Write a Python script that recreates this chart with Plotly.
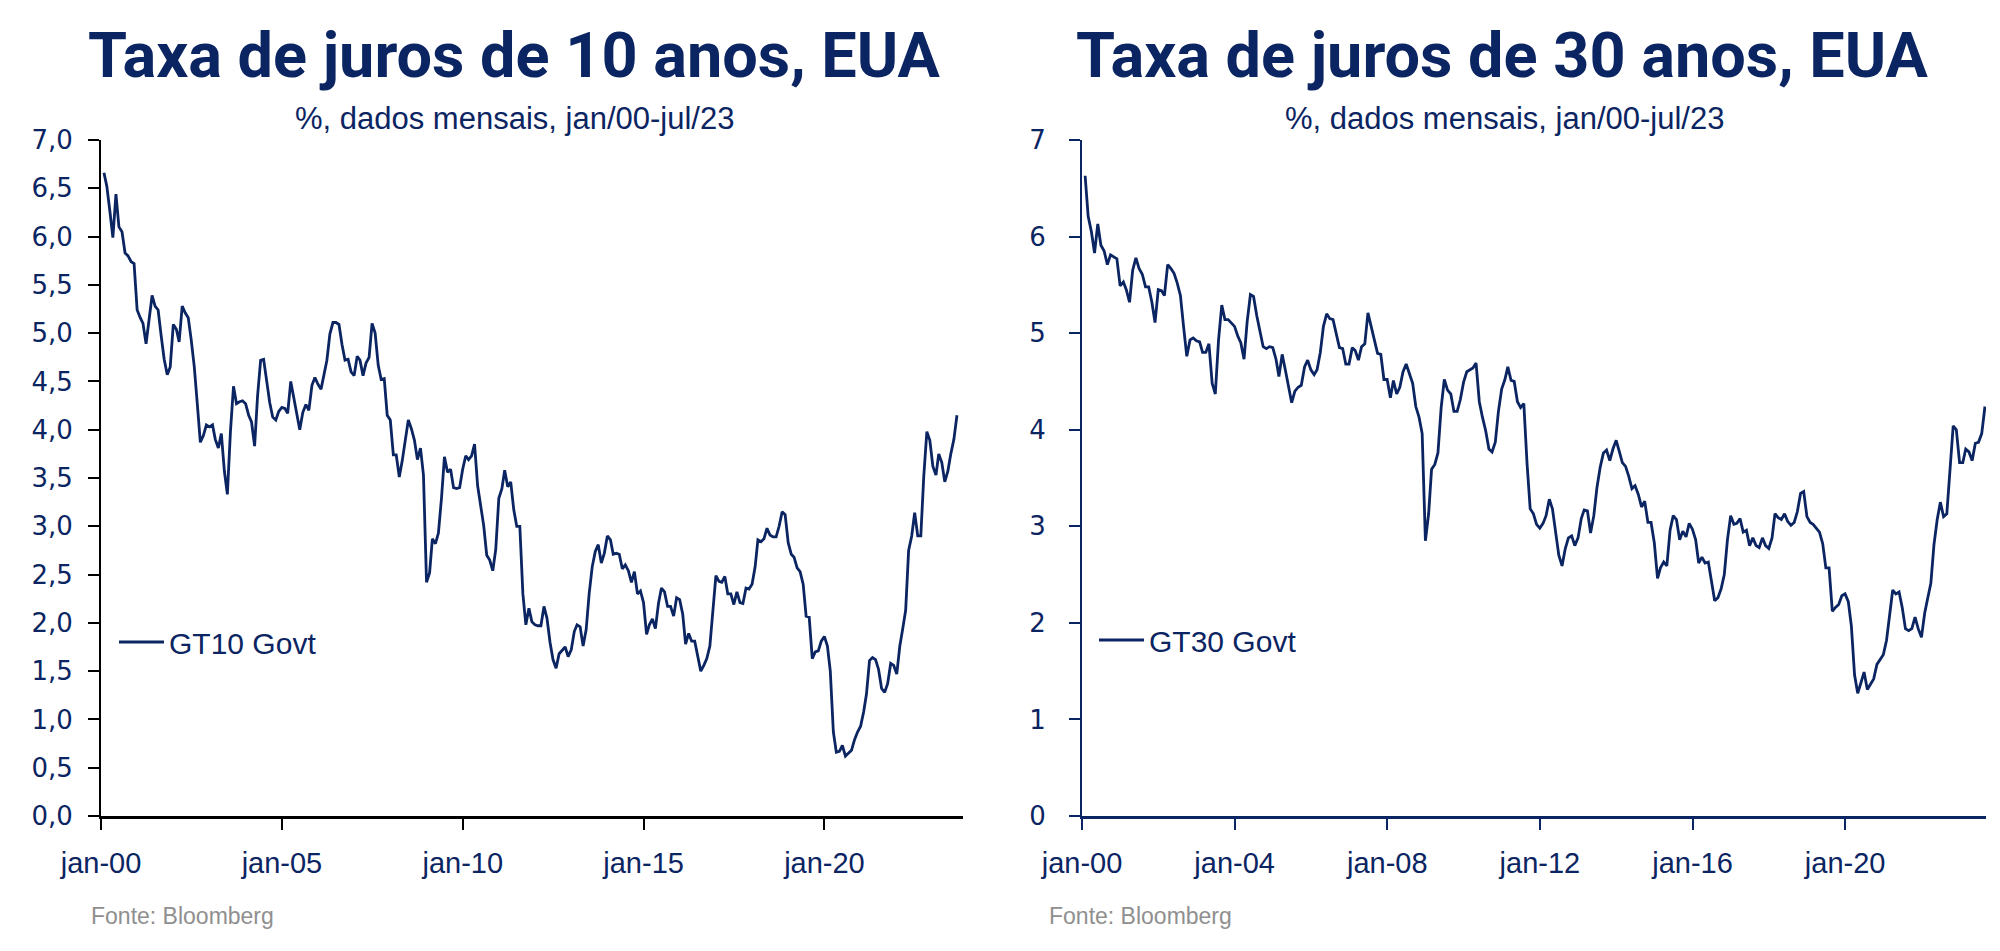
import pandas as pd
import plotly.graph_objects as go

# ---------------- data (monthly averages, %) ----------------
dates = pd.date_range("2000-01-31", periods=284, freq="ME")

yield_10y = [
    6.66, 6.52, 6.26, 5.99, 6.44, 6.10, 6.05, 5.83, 5.80, 5.74, 5.72, 5.24,
    5.16, 5.10, 4.89, 5.14, 5.39, 5.28, 5.24, 4.97, 4.73, 4.57, 4.65, 5.09,
    5.04, 4.91, 5.28, 5.21, 5.16, 4.93, 4.65, 4.26, 3.87, 3.94, 4.05, 4.03,
    4.05, 3.90, 3.81, 3.96, 3.57, 3.33, 3.98, 4.45, 4.27, 4.29, 4.30, 4.27,
    4.15, 4.08, 3.83, 4.35, 4.72, 4.73, 4.50, 4.28, 4.13, 4.10, 4.19, 4.23,
    4.22, 4.17, 4.50, 4.34, 4.14, 4.00, 4.18, 4.26, 4.20, 4.46, 4.54, 4.47,
    4.42, 4.57, 4.72, 4.99, 5.11, 5.11, 5.09, 4.88, 4.72, 4.73, 4.60, 4.56,
    4.76, 4.72, 4.56, 4.69, 4.75, 5.10, 5.00, 4.67, 4.52, 4.53, 4.15, 4.10,
    3.74, 3.74, 3.51, 3.68, 3.88, 4.10, 4.01, 3.89, 3.69, 3.81, 3.53, 2.42,
    2.52, 2.87, 2.82, 2.93, 3.29, 3.72, 3.56, 3.59, 3.40, 3.39, 3.40, 3.59,
    3.73, 3.69, 3.73, 3.85, 3.42, 3.20, 3.01, 2.70, 2.65, 2.54, 2.76, 3.29,
    3.39, 3.58, 3.41, 3.46, 3.17, 3.00, 3.00, 2.30, 1.98, 2.15, 2.01, 1.98,
    1.97, 1.97, 2.17, 2.05, 1.80, 1.62, 1.53, 1.68, 1.72, 1.75, 1.65, 1.72,
    1.91, 1.98, 1.96, 1.76, 1.93, 2.30, 2.58, 2.74, 2.81, 2.62, 2.72, 2.90,
    2.86, 2.71, 2.72, 2.71, 2.56, 2.60, 2.54, 2.42, 2.53, 2.30, 2.33, 2.21,
    1.88, 1.98, 2.04, 1.94, 2.20, 2.36, 2.32, 2.17, 2.17, 2.07, 2.26, 2.24,
    2.09, 1.78, 1.89, 1.81, 1.81, 1.64, 1.50, 1.56, 1.63, 1.76, 2.14, 2.49,
    2.43, 2.42, 2.48, 2.30, 2.30, 2.19, 2.32, 2.21, 2.20, 2.36, 2.35, 2.40,
    2.58, 2.86, 2.84, 2.87, 2.98, 2.91, 2.89, 2.89, 3.00, 3.15, 3.12, 2.83,
    2.71, 2.68, 2.57, 2.53, 2.40, 2.07, 2.06, 1.63, 1.70, 1.71, 1.81, 1.86,
    1.76, 1.50, 0.87, 0.66, 0.67, 0.73, 0.62, 0.65, 0.68, 0.79, 0.87, 0.93,
    1.08, 1.26, 1.61, 1.64, 1.62, 1.52, 1.32, 1.28, 1.37, 1.58, 1.56, 1.47,
    1.76, 1.93, 2.13, 2.75, 2.90, 3.14, 2.90, 2.90, 3.52, 3.98, 3.89, 3.62,
    3.53, 3.75, 3.66, 3.46, 3.57, 3.75, 3.90, 4.15,
]

yield_30y = [
    6.63, 6.21, 6.05, 5.83, 6.13, 5.91, 5.85, 5.71, 5.81, 5.79, 5.77, 5.49,
    5.53, 5.45, 5.32, 5.65, 5.78, 5.67, 5.61, 5.48, 5.48, 5.32, 5.11, 5.45,
    5.44, 5.39, 5.71, 5.67, 5.62, 5.52, 5.39, 5.06, 4.76, 4.93, 4.95, 4.92,
    4.91, 4.80, 4.80, 4.89, 4.48, 4.37, 4.93, 5.29, 5.14, 5.14, 5.10, 5.07,
    4.97, 4.90, 4.73, 5.12, 5.40, 5.38, 5.18, 5.00, 4.86, 4.84, 4.86, 4.85,
    4.73, 4.55, 4.78, 4.62, 4.45, 4.28, 4.40, 4.44, 4.46, 4.65, 4.72, 4.62,
    4.57, 4.62, 4.80, 5.07, 5.20, 5.15, 5.14, 5.00, 4.85, 4.84, 4.68, 4.68,
    4.85, 4.82, 4.72, 4.86, 4.89, 5.21, 5.06, 4.90, 4.79, 4.78, 4.52, 4.52,
    4.33, 4.51, 4.37, 4.44, 4.60, 4.68, 4.58, 4.48, 4.24, 4.13, 3.96, 2.85,
    3.13, 3.59, 3.64, 3.76, 4.23, 4.52, 4.41, 4.37, 4.19, 4.19, 4.31, 4.49,
    4.60, 4.62, 4.64, 4.69, 4.29, 4.13, 3.99, 3.80, 3.77, 3.87, 4.19, 4.42,
    4.52, 4.65, 4.51, 4.50, 4.29, 4.23, 4.27, 3.65, 3.18, 3.13, 3.02, 2.98,
    3.03, 3.11, 3.28, 3.18, 2.93, 2.70, 2.59, 2.77, 2.88, 2.90, 2.80, 2.88,
    3.08, 3.17, 3.16, 2.93, 3.11, 3.40, 3.61, 3.76, 3.79, 3.68, 3.80, 3.89,
    3.77, 3.66, 3.62, 3.52, 3.39, 3.42, 3.33, 3.20, 3.26, 3.04, 3.04, 2.83,
    2.46, 2.57, 2.63, 2.59, 2.96, 3.11, 3.07, 2.86, 2.95, 2.89, 3.03, 2.97,
    2.86, 2.62, 2.68, 2.62, 2.63, 2.45, 2.23, 2.26, 2.35, 2.50, 2.86, 3.11,
    3.02, 3.03, 3.08, 2.94, 2.96, 2.80, 2.88, 2.80, 2.78, 2.88, 2.80, 2.77,
    2.88, 3.13, 3.09, 3.07, 3.13, 3.05, 3.01, 3.04, 3.15, 3.34, 3.36, 3.10,
    3.04, 3.02, 2.98, 2.94, 2.82, 2.57, 2.57, 2.12, 2.16, 2.19, 2.28, 2.30,
    2.22, 1.97, 1.46, 1.27, 1.38, 1.49, 1.31, 1.36, 1.42, 1.57, 1.62, 1.67,
    1.82, 2.04, 2.34, 2.30, 2.32, 2.16, 1.94, 1.92, 1.94, 2.06, 1.94, 1.85,
    2.10, 2.25, 2.41, 2.81, 3.07, 3.25, 3.10, 3.13, 3.56, 4.04, 4.00, 3.66,
    3.66, 3.80, 3.77, 3.68, 3.86, 3.87, 3.96, 4.24,
]

ticks_left_vals = ["2000-01-01", "2005-01-01", "2010-01-01", "2015-01-01", "2020-01-01"]
ticks_left_text = ["jan-00", "jan-05", "jan-10", "jan-15", "jan-20"]
ticks_right_vals = ["2000-01-01", "2004-01-01", "2008-01-01", "2012-01-01", "2016-01-01", "2020-01-01"]
ticks_right_text = ["jan-00", "jan-04", "jan-08", "jan-12", "jan-16", "jan-20"]

title_left = "Taxa de juros de 10 anos, EUA"
title_right = "Taxa de juros de 30 anos, EUA"
subtitle = "%, dados mensais, jan/00-jul/23"
source = "Fonte: Bloomberg"

# ---------------- styling ----------------
W, H = 2000, 951
OFF = 8  # page body margin
NAVY = "#0b2462"
GRAY = "#8f8f8f"


def px_x(p):
    return (p - OFF) / W


def px_y(p):
    return 1 - (p - OFF) / H


fig = go.Figure()
fig.add_trace(go.Scatter(x=dates, y=yield_10y, mode="lines", name="GT10 Govt",
                         line=dict(color=NAVY, width=2.8), xaxis="x", yaxis="y",
                         legend="legend"))
fig.add_trace(go.Scatter(x=dates, y=yield_30y, mode="lines", name="GT30 Govt",
                         line=dict(color=NAVY, width=2.8), xaxis="x2", yaxis="y2",
                         legend="legend2"))

ydom = [px_y(816), px_y(140)]
xfont = dict(family="Liberation Sans", size=29, color=NAVY)
yfont = dict(family="DejaVu Sans", size=26, color=NAVY)

fig.update_layout(
    width=W, height=H,
    margin=dict(l=0, r=0, t=0, b=0, autoexpand=False),
    paper_bgcolor="white", plot_bgcolor="white",
    separators=",.",
    showlegend=True,
    xaxis=dict(domain=[px_x(101), px_x(963)], type="date",
               range=["2000-01-01", "2023-10-31"],
               tickmode="array", tickvals=ticks_left_vals, ticktext=ticks_left_text,
               ticks="outside", ticklen=11, tickwidth=2, tickcolor="black",
               showline=True, linecolor="black", linewidth=3,
               showgrid=False, zeroline=False, tickfont=xfont,
               ticklabelstandoff=8, anchor="y", automargin=False),
    yaxis=dict(domain=ydom, range=[0, 7], dtick=0.5, tick0=0, tickformat=".1f",
               ticks="outside", ticklen=11, tickwidth=2, tickcolor="black",
               showline=True, linecolor="black", linewidth=2,
               showgrid=False, zeroline=False, tickfont=yfont,
               ticklabelstandoff=10, anchor="x", automargin=False),
    xaxis2=dict(domain=[px_x(1082), px_x(1986)], type="date",
                range=["2000-01-01", "2023-09-10"],
                tickmode="array", tickvals=ticks_right_vals, ticktext=ticks_right_text,
                ticks="outside", ticklen=11, tickwidth=2, tickcolor=NAVY,
                showline=True, linecolor=NAVY, linewidth=3,
                showgrid=False, zeroline=False, tickfont=xfont,
                ticklabelstandoff=8, anchor="y2", automargin=False),
    yaxis2=dict(domain=ydom, range=[0, 7], dtick=1, tick0=0, tickformat="d",
                ticks="outside", ticklen=11, tickwidth=2, tickcolor=NAVY,
                showline=True, linecolor=NAVY, linewidth=2,
                showgrid=False, zeroline=False, tickfont=yfont,
                ticklabelstandoff=18, anchor="x2", automargin=False),
    legend=dict(x=px_x(114), y=px_y(642), xanchor="left", yanchor="middle",
                bgcolor="rgba(0,0,0,0)", itemwidth=45,
                font=dict(family="Liberation Sans", size=30, color=NAVY)),
    legend2=dict(x=px_x(1094), y=px_y(640), xanchor="left", yanchor="middle",
                 bgcolor="rgba(0,0,0,0)", itemwidth=45,
                 font=dict(family="Liberation Sans", size=30, color=NAVY)),
)

title_font = dict(family="Roboto", size=63, color=NAVY, weight=700)
sub_font = dict(family="Liberation Sans", size=31, color=NAVY)
src_font = dict(family="Liberation Sans", size=23, color=GRAY)

annotations = [
    dict(text=title_left, x=px_x(514), y=px_y(55), font=title_font),
    dict(text=title_right, x=px_x(1502), y=px_y(55), font=title_font),
    dict(text=subtitle, x=px_x(514), y=px_y(119), font=sub_font),
    dict(text=subtitle, x=px_x(1504), y=px_y(119), font=sub_font),
]
for a in annotations:
    a.update(xref="paper", yref="paper", xanchor="center", yanchor="middle", showarrow=False)
fig.update_layout(annotations=annotations)
fig.add_annotation(text=source, x=px_x(89), y=px_y(916), xref="paper", yref="paper",
                   xanchor="left", yanchor="middle", showarrow=False, font=src_font)
fig.add_annotation(text=source, x=px_x(1047), y=px_y(916), xref="paper", yref="paper",
                   xanchor="left", yanchor="middle", showarrow=False, font=src_font)

fig.write_html("out.html")
